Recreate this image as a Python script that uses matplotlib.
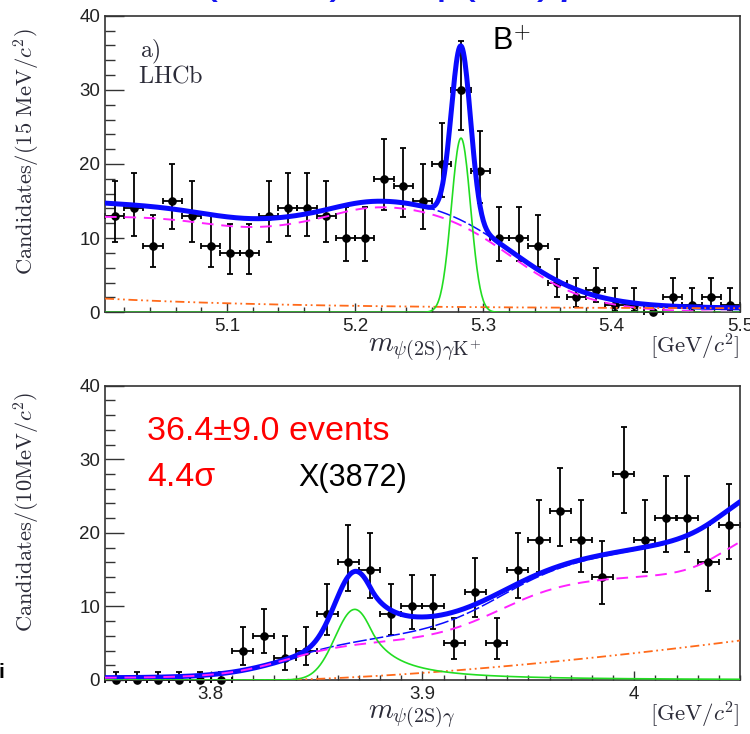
import math
import numpy as np
import matplotlib
matplotlib.use("Agg")
import matplotlib.pyplot as plt
from matplotlib.ticker import MultipleLocator

plt.rcParams["mathtext.fontset"] = "cm"
plt.rcParams["font.family"] = ["Liberation Sans", "DejaVu Sans"]

# ---------------- data: B+ -> psi(2S) gamma K+  (15 MeV bins) ----------------
b_range = (5.005, 5.5)
b_binw = 0.015
b_counts = [13, 14, 9, 15, 13, 9, 8, 8, 13, 14, 14, 13, 10, 10, 18, 17, 15,
            20, 30, 19, 10, 10, 9, 4, 2, 3, 1, 1, 0, 2, 1, 2, 1]
b_xticks = [5.1, 5.2, 5.3, 5.4, 5.5]

# ---------------- data: psi(2S) gamma  (10 MeV bins) ----------------
x_range = (3.75, 4.05)
x_binw = 0.010
x_counts = [0, 0, 0, 0, 0, 0, 4, 6, 3, 4, 9, 16, 15, 9, 10, 10, 5, 12, 5, 15,
            19, 23, 19, 14, 28, 19, 22, 22, 16, 21]
x_xticks = [3.8, 3.9, 4.0]
x_xticklabels = ["3.8", "3.9", "4"]

y_ticks = [0, 10, 20, 30, 40]

# ---------------- fit model parameters ----------------
# B+ panel
B_MASS, B_SIGMA, B_PEAK = 5.2825, 0.0075, 23.5
PR_LEVEL, PR_STEP, PR_STEP_POS, PR_STEP_W = 12.9, 2.1, 5.19, 0.015
PR_DIP, PR_DIP_POS, PR_DIP_W = 1.4, 5.12, 0.04
PR_EDGE, PR_EDGE_W = 5.322, 0.031
CB_CONST, CB_AMP, CB_SLOPE = 0.5, 1.35, 0.15

# X(3872) panel
X_MASS, X_SIGMA, X_PEAK = 3.868, 0.0093, 9.6
X_ALPHA, X_N = 0.8, 2.0
PK_BASE = 0.3
PK_STEPS = [(4.8, 3.835, 0.015), (9.0, 3.937, 0.017), (7.0, 4.043, 0.010)]
XC_THRESH, XC_AMP, XC_POW = 3.83, 52.0, 1.5


def sigmoid(z):
    return 1.0 / (1.0 + np.exp(-z))


def b_signal(m):
    return B_PEAK * np.exp(-0.5 * ((m - B_MASS) / B_SIGMA) ** 2)


def b_partial(m):
    base = (PR_LEVEL + PR_STEP * sigmoid((m - PR_STEP_POS) / PR_STEP_W)
            - PR_DIP * np.exp(-0.5 * ((m - PR_DIP_POS) / PR_DIP_W) ** 2))
    return base * sigmoid(-(m - PR_EDGE) / PR_EDGE_W)


def b_comb(m):
    return CB_CONST + CB_AMP * np.exp(-(m - b_range[0]) / CB_SLOPE)


def x_signal(m):
    t = (m - X_MASS) / X_SIGMA
    a = (X_N / X_ALPHA) ** X_N * np.exp(-0.5 * X_ALPHA ** 2)
    b = X_N / X_ALPHA - X_ALPHA
    tail = a * np.power(b + np.clip(t, 0, None), -X_N)
    return X_PEAK * np.where(t > X_ALPHA, tail, np.exp(-0.5 * t ** 2))


def x_peaking(m):
    out = np.full_like(m, PK_BASE)
    for amp, pos, w in PK_STEPS:
        out = out + amp * sigmoid((m - pos) / w)
    return out


def x_comb(m):
    return XC_AMP * np.clip(m - XC_THRESH, 0, None) ** XC_POW


# ---------------- Poisson (Garwood) intervals for the data points ----------------
CL68 = 0.682689


def _pois_cdf(k, mu):
    s, term = 0.0, math.exp(-mu)
    for i in range(k + 1):
        if i > 0:
            term *= mu / i
        s += term
    return s


def _bisect(f, lo, hi):
    # f is decreasing in mu; find its root
    for _ in range(80):
        mid = 0.5 * (lo + hi)
        if f(mid) > 0:
            lo = mid
        else:
            hi = mid
    return 0.5 * (lo + hi)


def poisson_errors(counts):
    tail = 0.5 * (1 - CL68)
    lo, hi = [], []
    for n in counts:
        if n == 0:
            lo.append(0.0)
            hi.append(-math.log(1 - CL68))
            continue
        mu_up = _bisect(lambda mu: _pois_cdf(n, mu) - tail, n, n + 10 * math.sqrt(n) + 10)
        mu_lo = _bisect(lambda mu: tail - (1 - _pois_cdf(n - 1, mu)), 0.0, n)
        lo.append(n - mu_lo)
        hi.append(mu_up - n)
    return np.array(lo), np.array(hi)


# ---------------- styling ----------------
FIG_W, FIG_H = 750, 734
LABEL_COLOR = "#2b2b38"
TICK_COLOR = "#222222"
BLUE = "#0a0aff"
MAGENTA = "#ff22ff"
GREEN = "#22dd22"
ORANGE = "#ff6a1a"

fig = plt.figure(figsize=(FIG_W / 100, FIG_H / 100), dpi=100)


def axes_rect(left, top, right, bottom):
    return [left / FIG_W, 1 - bottom / FIG_H, (right - left) / FIG_W, (bottom - top) / FIG_H]


ax1 = fig.add_axes(axes_rect(105, 15.7, 740, 312.3))
ax2 = fig.add_axes(axes_rect(105, 385.7, 740, 680))


def style_axes(ax, xminor):
    ax.set_ylim(0, 40)
    ax.set_yticks(y_ticks)
    ax.yaxis.set_minor_locator(MultipleLocator(2))
    ax.xaxis.set_minor_locator(MultipleLocator(xminor))
    ax.tick_params(axis="y", which="major", direction="in", length=14, width=1.0,
                   color="#333333", labelsize=13.5, labelcolor=TICK_COLOR, pad=3.5,
                   left=True, right=False)
    ax.tick_params(axis="y", which="minor", direction="in", length=7.5, width=1.0,
                   color="#333333", left=True, right=False)
    ax.tick_params(axis="x", which="major", direction="in", length=6.5, width=1.0,
                   color="#333333", labelsize=13.5, labelcolor=TICK_COLOR, pad=4,
                   bottom=True, top=False)
    ax.tick_params(axis="x", which="minor", direction="in", length=3.6, width=1.0,
                   color="#333333", bottom=True, top=False)
    for sp in ax.spines.values():
        sp.set_linewidth(1.2)
        sp.set_color("#333333")


def draw_data(ax, rng, binw, counts):
    nb = len(counts)
    centers = rng[0] + binw * (np.arange(nb) + 0.5)
    lo, hi = poisson_errors(counts)
    ax.errorbar(centers, counts, yerr=[lo, hi], xerr=binw / 2, fmt="o", color="black",
                ms=5.2, elinewidth=1.3, capsize=2.3, capthick=1.3, zorder=2, clip_on=False)


# ---------------- top panel ----------------
style_axes(ax1, 0.02)
ax1.set_xlim(*b_range)
ax1.set_xticks(b_xticks)
ax1.set_xticklabels([f"{v:.1f}" for v in b_xticks])
draw_data(ax1, b_range, b_binw, b_counts)

mb = np.linspace(b_range[0], b_range[1], 800)
sig_b, part_b, comb_b = b_signal(mb), b_partial(mb), b_comb(mb)
ax1.plot(mb, sig_b + part_b + comb_b, color=BLUE, lw=3.6, zorder=4, solid_capstyle="round")
ax1.plot(mb, part_b + comb_b, color=BLUE, lw=1.1, dashes=(9, 2), zorder=4.5)
ax1.plot(mb, part_b, color=MAGENTA, lw=1.4, dashes=(6, 4), zorder=5)
ax1.plot(mb, comb_b, color=ORANGE, lw=1.3, dashes=(5, 2, 1, 2, 1, 2), zorder=5)
ax1.plot(mb, sig_b, color=GREEN, lw=1.2, zorder=5)

ax1.text(0.055, 0.86, r"$\mathrm{a)}$", transform=ax1.transAxes, fontsize=17,
         color=LABEL_COLOR, ha="left", va="baseline")
ax1.text(0.052, 0.775, r"$\mathrm{LHCb}$", transform=ax1.transAxes, fontsize=17.5,
         color=LABEL_COLOR, ha="left", va="baseline")
ax1.text(0.609, 0.885, r"B$^{+}$", transform=ax1.transAxes, fontsize=22,
         color="black", ha="left", va="baseline")
ax1.text(0.504, -0.128, r"$m_{\psi(2\mathrm{S})\gamma\mathrm{K}^{+}}$", transform=ax1.transAxes,
         fontsize=20.5, color=LABEL_COLOR, ha="center", va="center")
ax1.text(1.0, -0.118, r"$[\mathrm{GeV}/c^{2}]$", transform=ax1.transAxes,
         fontsize=16.5, color=LABEL_COLOR, ha="right", va="center")
ax1.text(-0.123, 0.958, r"$\mathrm{Candidates}/(15\ \mathrm{MeV}/c^{2})$", transform=ax1.transAxes,
         fontsize=16.2, color=LABEL_COLOR, ha="center", va="top", rotation=90)

# ---------------- bottom panel ----------------
style_axes(ax2, 0.01)
ax2.set_xlim(*x_range)
ax2.set_xticks(x_xticks)
ax2.set_xticklabels(x_xticklabels)
draw_data(ax2, x_range, x_binw, x_counts)

mx = np.linspace(x_range[0], x_range[1], 800)
sig_x, pk_x, comb_x = x_signal(mx), x_peaking(mx), x_comb(mx)
ax2.plot(mx, sig_x + pk_x + comb_x, color=BLUE, lw=3.6, zorder=4, solid_capstyle="round")
ax2.plot(mx, pk_x + comb_x, color=BLUE, lw=1.1, dashes=(9, 2), zorder=4.5)
ax2.plot(mx, pk_x, color=MAGENTA, lw=1.4, dashes=(6, 4), zorder=5)
ax2.plot(mx, comb_x, color=ORANGE, lw=1.3, dashes=(5, 2, 1, 2, 1, 2), zorder=5)
ax2.plot(mx, sig_x, color=GREEN, lw=1.2, zorder=5)

ax2.text(0.066, 0.815, "36.4±9.0 events", transform=ax2.transAxes, fontsize=24.5,
         color="#ff0000", ha="left", va="baseline")
ax2.text(0.066, 0.66, "4.4σ", transform=ax2.transAxes, fontsize=24.5,
         color="#ff0000", ha="left", va="baseline")
ax2.text(0.304, 0.66, "X(3872)", transform=ax2.transAxes, fontsize=22,
         color="black", ha="left", va="baseline")
ax2.text(0.483, -0.128, r"$m_{\psi(2\mathrm{S})\gamma}$", transform=ax2.transAxes,
         fontsize=20.5, color=LABEL_COLOR, ha="center", va="center")
ax2.text(1.0, -0.118, r"$[\mathrm{GeV}/c^{2}]$", transform=ax2.transAxes,
         fontsize=16.5, color=LABEL_COLOR, ha="right", va="center")
ax2.text(-0.123, 0.979, r"$\mathrm{Candidates}/(10\mathrm{MeV}/c^{2})$", transform=ax2.transAxes,
         fontsize=16.2, color=LABEL_COLOR, ha="center", va="top", rotation=90)

# ---------------- heading (runs off the top edge) ----------------
fig.text(0.497, 1 + 8 / FIG_H, "X(3872) → ψ(2S)γ", fontsize=36, color="#1515f0",
         ha="center", va="baseline")

# small glyph clipped by the left edge
fig.text(1 / FIG_W, 1 - 678 / FIG_H, "i", fontsize=15, fontweight="bold", color="black",
         ha="center", va="baseline")

fig.savefig("out.png", dpi=100)
